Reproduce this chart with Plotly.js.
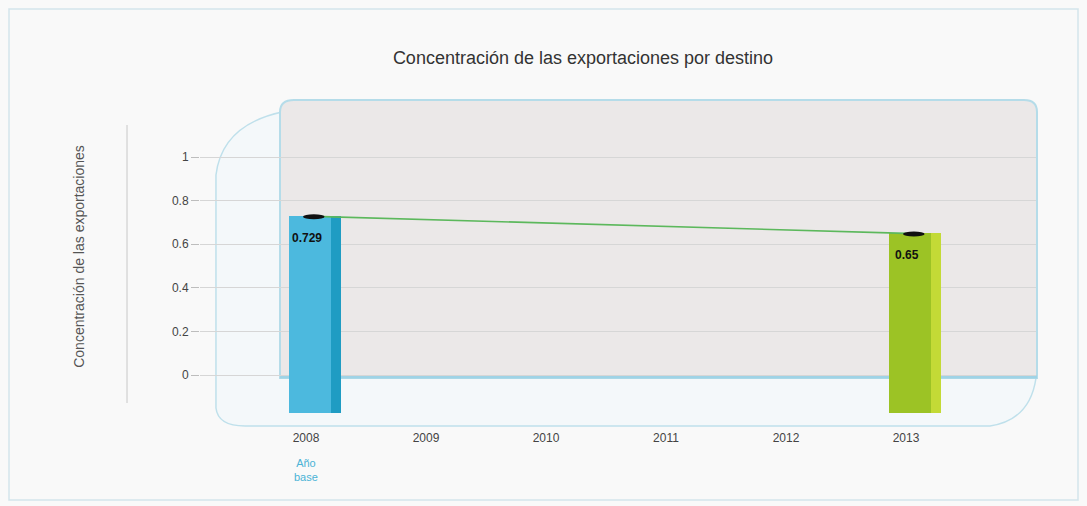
<!DOCTYPE html>
<html>
<head>
<meta charset="utf-8">
<script src="https://cdn.plot.ly/plotly-3.0.1.min.js"></script>
<style>
  html, body { margin: 0; padding: 0; background: #f9f9f9; }
  #chart { width: 1087px; height: 506px; }
</style>
</head>
<body>
<div id="chart"></div>
<script>
// ---- data ----
const chartTitle = "Concentración de las exportaciones por destino";
const yTitle = "Concentración de las exportaciones";
const years = [2008, 2009, 2010, 2011, 2012, 2013];
const barYears = [2008, 2013];
const barValues = [0.729, 0.65];
const barLabels = ["0.729", "0.65"];
const barColors = ["#4cb9de", "#9cc325"];
const barSideColors = ["#1f9cc3", "#c3da36"];
const yTickVals = [0, 0.2, 0.4, 0.6, 0.8, 1];
const yTickText = ["0", "0.2", "0.4", "0.6", "0.8", "1"];
const baseNote = "Año<br>base";

// ---- geometry (pixels) ----
const W = 1087, H = 506;
const L = 200, R = 1036, T = 100, B = 413;
const PXY = 120;        // pixels per year
const X0 = 306;         // pixel of first year label
const BAR_W = 0.44;     // bar width in years
const SHIFT = 0.075;    // 3D bars sit slightly right of the labels
const FLOOR = -0.174;   // visual floor of the 3D bars (below zero)
const px = x => (x - L) / (R - L);
const py = y => (B - y) / (B - T);
const f = v => v.toFixed(4);

const FONT = "Liberation Sans, Arial, sans-serif";

const bars = {
  type: "bar",
  x: barYears,
  y: barValues.map(v => v - FLOOR),
  base: FLOOR,
  width: BAR_W,
  offset: -BAR_W / 2 + SHIFT,
  marker: { color: barColors, line: { width: 0 } },
  hoverinfo: "skip",
  showlegend: false
};
// narrow side strip giving the 3D face
const barSides = {
  type: "bar",
  x: barYears,
  y: barValues.map(v => v - FLOOR),
  base: FLOOR,
  width: 0.09,
  offset: BAR_W / 2 - 0.09 + SHIFT,
  marker: { color: barSideColors, line: { width: 0 } },
  hoverinfo: "skip",
  showlegend: false
};

const line = {
  type: "scatter",
  mode: "lines",
  x: barYears,
  y: barValues,
  line: { color: "#5cb85c", width: 1.6 },
  hoverinfo: "x+y",
  showlegend: false
};

const shapes = [
  // outer frame
  { type: "rect", xref: "paper", yref: "paper", x0: px(9), x1: px(1078), y0: py(9), y1: py(500),
    line: { color: "#d3e5eb", width: 1.5 }, fillcolor: "rgba(0,0,0,0)", layer: "below" },
  // wall + floor
  { type: "path", xref: "paper", yref: "paper", layer: "below",
    path: "M " + f(px(282)) + "," + f(py(112)) +
          " Q " + f(px(222)) + "," + f(py(125)) + " " + f(px(216)) + "," + f(py(175)) +
          " L " + f(px(216)) + "," + f(py(408)) +
          " Q " + f(px(218)) + "," + f(py(426)) + " " + f(px(245)) + "," + f(py(426)) +
          " L " + f(px(990)) + "," + f(py(426)) +
          " Q " + f(px(1030)) + "," + f(py(420)) + " " + f(px(1036)) + "," + f(py(378)) +
          " L " + f(px(282)) + "," + f(py(378)) + " Z",
    fillcolor: "#f4f8fa", line: { color: "#bfe0eb", width: 1.5 } },
  // back panel
  { type: "path", xref: "paper", yref: "paper", layer: "below",
    path: "M " + f(px(294)) + "," + f(py(100)) +
          " L " + f(px(1024)) + "," + f(py(100)) +
          " Q " + f(px(1037)) + "," + f(py(100)) + " " + f(px(1037)) + "," + f(py(112)) +
          " L " + f(px(1037)) + "," + f(py(378)) +
          " L " + f(px(280)) + "," + f(py(378)) +
          " L " + f(px(280)) + "," + f(py(112)) +
          " Q " + f(px(280)) + "," + f(py(100)) + " " + f(px(294)) + "," + f(py(100)) + " Z",
    fillcolor: "#ebe8e8", line: { color: "#b5dce9", width: 2 } },
  // bottom edge of panel
  { type: "line", xref: "paper", yref: "paper", layer: "below",
    x0: px(280), x1: px(1037), y0: py(377), y1: py(377), line: { color: "#9fd3e6", width: 3 } },
  // separate vertical rule left of axis
  { type: "line", xref: "paper", yref: "paper",
    x0: px(127), x1: px(127), y0: py(125), y1: py(403), line: { color: "#c8c8c8", width: 1 } }
];
// black top caps on bars, from data
barYears.forEach((yr, i) => {
  shapes.push({ type: "circle", xref: "x", yref: "y", layer: "above",
    x0: yr + SHIFT - 0.1, x1: yr + SHIFT + 0.08, y0: barValues[i] - 0.014, y1: barValues[i] + 0.008,
    fillcolor: "#111", line: { width: 0 } });
});

// value labels inside the bars, just below the top
const annotations = barYears.map((yr, i) => ({
  text: "<b>" + barLabels[i] + "</b>", x: yr + SHIFT, xref: "x", y: barValues[i], yref: "y",
  xanchor: "center", yanchor: "middle", xshift: -8, yshift: -22,
  showarrow: false, font: { family: FONT, size: 12, color: "#111" }
}));
annotations.push({
  text: baseNote, x: 2008, xref: "x", y: py(470), yref: "paper", yanchor: "middle",
  showarrow: false, font: { family: FONT, size: 11, color: "#4bb3d6" }, align: "center"
});

const layout = {
  width: W, height: H,
  paper_bgcolor: "#f9f9f9",
  plot_bgcolor: "rgba(0,0,0,0)",
  margin: { l: L, r: W - R, t: T, b: H - B, pad: 0 },
  font: { family: FONT, color: "#444", size: 12 },
  title: {
    text: chartTitle,
    font: { family: FONT, size: 18, color: "#333" },
    x: 583 / W, xanchor: "center", xref: "container",
    y: 1 - 58 / H, yanchor: "middle", yref: "container"
  },
  xaxis: {
    type: "linear",
    range: [2008 - (X0 - L) / PXY, 2008 + (R - X0) / PXY],
    tickvals: years,
    ticktext: years.map(String),
    showgrid: false, zeroline: false, showline: false,
    ticks: "", ticklabelstandoff: 16,
    tickfont: { family: FONT, size: 12, color: "#444" },
    fixedrange: true
  },
  yaxis: {
    range: [FLOOR, 275 / 218],
    tickvals: yTickVals,
    ticktext: yTickText,
    showgrid: true, gridcolor: "#d6d6d6", gridwidth: 1,
    zeroline: false, showline: false,
    ticks: "outside", ticklen: 8, tickcolor: "#bdbdbd",
    tickfont: { family: FONT, size: 12, color: "#444" },
    title: { text: yTitle, font: { family: FONT, size: 14, color: "#555" }, standoff: 84 },
    automargin: false,
    fixedrange: true
  },
  shapes: shapes,
  annotations: annotations,
  barmode: "overlay",
  bargap: 0,
  showlegend: false
};

Plotly.newPlot("chart", [bars, barSides, line], layout, { displayModeBar: false, staticPlot: true });
</script>
</body>
</html>
